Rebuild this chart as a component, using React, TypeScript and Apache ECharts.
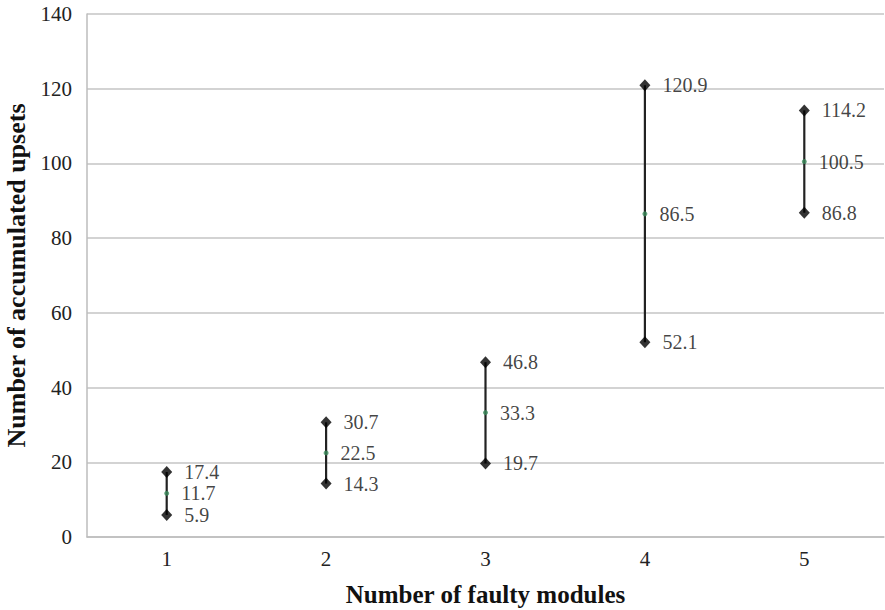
import React, { useEffect, useRef } from "react";
import * as echarts from "echarts";

const categories = ["1", "2", "3", "4", "5"];
const highValues = [17.4, 30.7, 46.8, 120.9, 114.2];
const meanValues = [11.7, 22.5, 33.3, 86.5, 100.5];
const lowValues = [5.9, 14.3, 19.7, 52.1, 86.8];
const yTicks = [0, 20, 40, 60, 80, 100, 120, 140];

const FONT = "Liberation Serif";

export default function App() {
  const ref = useRef<HTMLDivElement>(null);
  useEffect(() => {
    if (!ref.current) return;
    document.body.style.margin = "0";
    const chart = echarts.init(ref.current, undefined, { renderer: "svg" });
    const labelStyle = {
      show: true,
      position: "right" as const,
      distance: 12,
      fontFamily: FONT,
      fontSize: 20,
      lineHeight: 19,
      color: "#111",
      formatter: (p: any) => p.value[1].toFixed(1),
    };
    chart.setOption({
      animation: false,
      backgroundColor: "#fff",
      textStyle: { fontFamily: FONT },
      grid: {
        left: 87,
        right: 1,
        top: 14,
        bottom: 73,
        containLabel: false,
        outerBoundsMode: "none",
      },
      xAxis: {
        type: "category",
        data: categories,
        boundaryGap: true,
        name: "Number of faulty modules",
        nameLocation: "middle",
        nameGap: 45,
        nameTextStyle: { fontFamily: FONT, fontSize: 25, fontWeight: "bold", color: "#111" },
        axisLine: { lineStyle: { color: "#bdbdbd", width: 1.5 } },
        axisTick: { show: false },
        axisLabel: { fontFamily: FONT, fontSize: 21, color: "#222", margin: 11 },
      },
      yAxis: {
        type: "value",
        min: 0,
        max: 140,
        interval: 20,
        name: "Number of accumulated upsets",
        nameLocation: "middle",
        nameGap: 58,
        nameTextStyle: { fontFamily: FONT, fontSize: 26, fontWeight: "bold", color: "#111" },
        axisLine: { show: true, lineStyle: { color: "#bdbdbd", width: 1.5 } },
        axisTick: { show: false },
        splitLine: { lineStyle: { color: "#c4c4c4", width: 1.5 } },
        axisLabel: {
          fontFamily: FONT,
          fontSize: 21,
          color: "#222",
          margin: 15,
          formatter: (v: number) => (yTicks.includes(v) ? String(v) : ""),
        },
      },
      series: [
        {
          type: "custom",
          renderItem: (params: any, api: any) => {
            const lo = api.coord([api.value(0), api.value(1)]);
            const hi = api.coord([api.value(0), api.value(2)]);
            return {
              type: "line",
              shape: { x1: lo[0], y1: lo[1], x2: hi[0], y2: hi[1] },
              style: { stroke: "#222", lineWidth: 2.2 },
            };
          },
          data: categories.map((_, i) => [i, lowValues[i], highValues[i]]),
          z: 1,
        },
        {
          type: "scatter",
          symbol: "diamond",
          symbolSize: [11, 12],
          itemStyle: { color: "#000" },
          label: labelStyle,
          data: categories.map((_, i) => [i, highValues[i]]),
          z: 3,
        },
        {
          type: "scatter",
          symbol: "diamond",
          symbolSize: [11, 12],
          itemStyle: { color: "#000" },
          label: labelStyle,
          data: categories.map((_, i) => [i, lowValues[i]]),
          z: 3,
        },
        {
          type: "scatter",
          symbol: "circle",
          symbolSize: 5,
          itemStyle: { color: "#3a8a5a" },
          label: { ...labelStyle, distance: 12 },
          data: categories.map((_, i) => [i, meanValues[i]]),
          z: 4,
        },
      ],
    });
    return () => chart.dispose();
  }, []);
  return (
    <div
      ref={ref}
      style={{ position: "fixed", left: 0, top: 0, width: 885, height: 610 }}
    />
  );
}
